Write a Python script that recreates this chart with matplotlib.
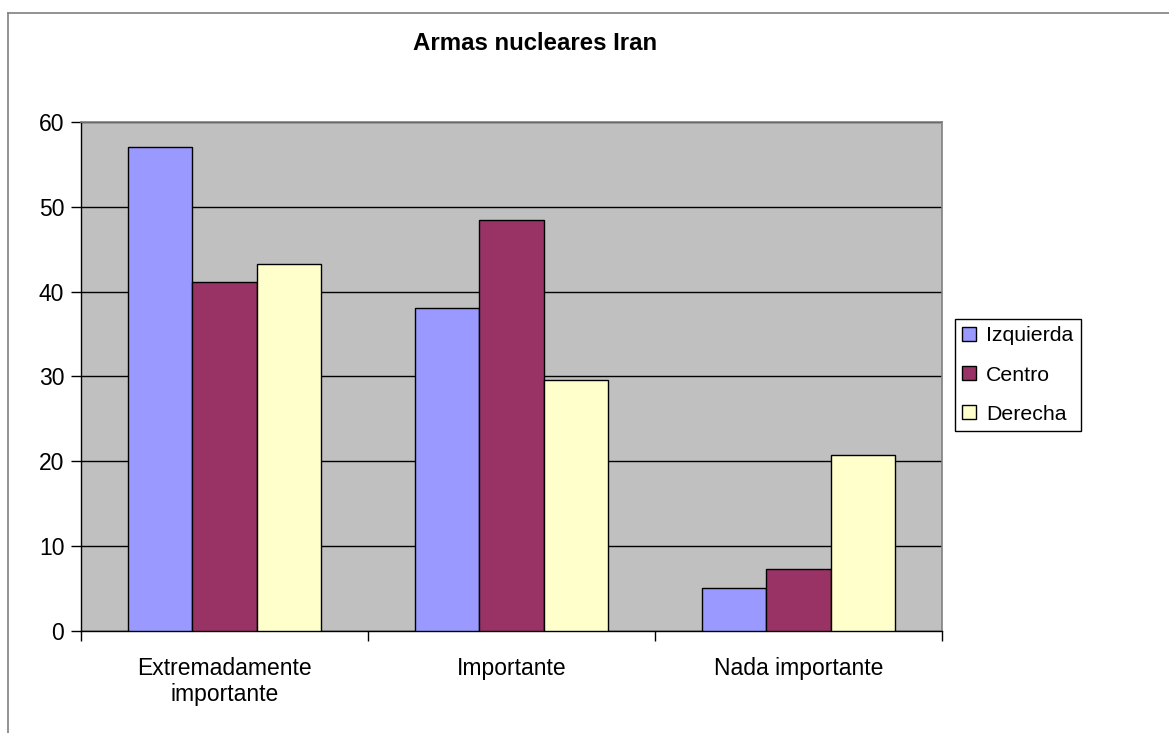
import matplotlib
matplotlib.use("Agg")
import matplotlib.pyplot as plt
import numpy as np
from matplotlib.lines import Line2D

plt.rcParams['font.family'] = ['Liberation Sans', 'DejaVu Sans']

categories = ["Extremadamente\nimportante", "Importante", "Nada importante"]
series_names = ["Izquierda", "Centro", "Derecha"]
izquierda = [57.0, 38.1, 5.0]
centro = [41.1, 48.5, 7.3]
derecha = [43.2, 29.6, 20.7]
colors = ["#9999FF", "#993366", "#FFFFCC"]
title = "Armas nucleares Iran"
yticks = [0, 10, 20, 30, 40, 50, 60]

W, H = 1169, 733
fig = plt.figure(figsize=(W / 100, H / 100), dpi=100)
fig.patch.set_facecolor("white")

# outer chart border (left and top visible)
fig.add_artist(Line2D([8 / W, 8 / W], [0, 1 - 13 / H], transform=fig.transFigure,
                      color="#808080", lw=1.2))
fig.add_artist(Line2D([8 / W, 1], [1 - 13 / H, 1 - 13 / H], transform=fig.transFigure,
                      color="#808080", lw=1.2))

left, right, top, bottom = 81, 942, 122, 630.7
ax = fig.add_axes([left / W, (H - bottom) / H, (right - left) / W, (bottom - top) / H])
ax.set_facecolor("#C0C0C0")

x = np.arange(len(categories))
bw = 0.2233
for i, (vals, name, c) in enumerate(zip([izquierda, centro, derecha], series_names, colors)):
    ax.bar(x + (i - 1) * bw, vals, width=bw, color=c, edgecolor="black", linewidth=1.0,
           label=name, zorder=3)

ax.set_xlim(-0.5, 2.5)
ax.set_ylim(0, 60)
ax.set_yticks(yticks)
ax.yaxis.grid(True, color="black", linewidth=1.0, zorder=1)
ax.set_axisbelow(True)
ax.tick_params(axis="y", direction="out", length=7, width=1, color="black",
               labelsize=16.5, pad=5)

ax.set_xticks(x)
ax.set_xticklabels(categories, fontsize=16.5, linespacing=1.15)
ax.tick_params(axis="x", which="major", length=0, pad=19)
ax.set_xticks([-0.5, 0.5, 1.5, 2.5], minor=True)
ax.tick_params(axis="x", which="minor", direction="out", length=7, width=1, color="black")

for s in ["top", "right"]:
    ax.spines[s].set_color("#808080")
    ax.spines[s].set_linewidth(1.2)
for s in ["left", "bottom"]:
    ax.spines[s].set_color("black")
    ax.spines[s].set_linewidth(1.0)

fig.text(535.5 / W, 1 - 43 / H, title, ha="center", va="center", fontsize=17.3,
         fontweight="bold")

leg = ax.legend(loc="upper left", bbox_to_anchor=(955 / W, 1 - 319 / H),
                bbox_transform=fig.transFigure, fontsize=15.3, frameon=True,
                fancybox=False, shadow=False, handlelength=0.65, handleheight=0.65,
                handletextpad=0.45, labelspacing=0.95, borderpad=0.35, borderaxespad=0)
leg.get_frame().set_edgecolor("black")
leg.get_frame().set_linewidth(1.0)
leg.get_frame().set_facecolor("white")
leg.get_frame().set_alpha(1)

fig.savefig("out.png", dpi=100)
